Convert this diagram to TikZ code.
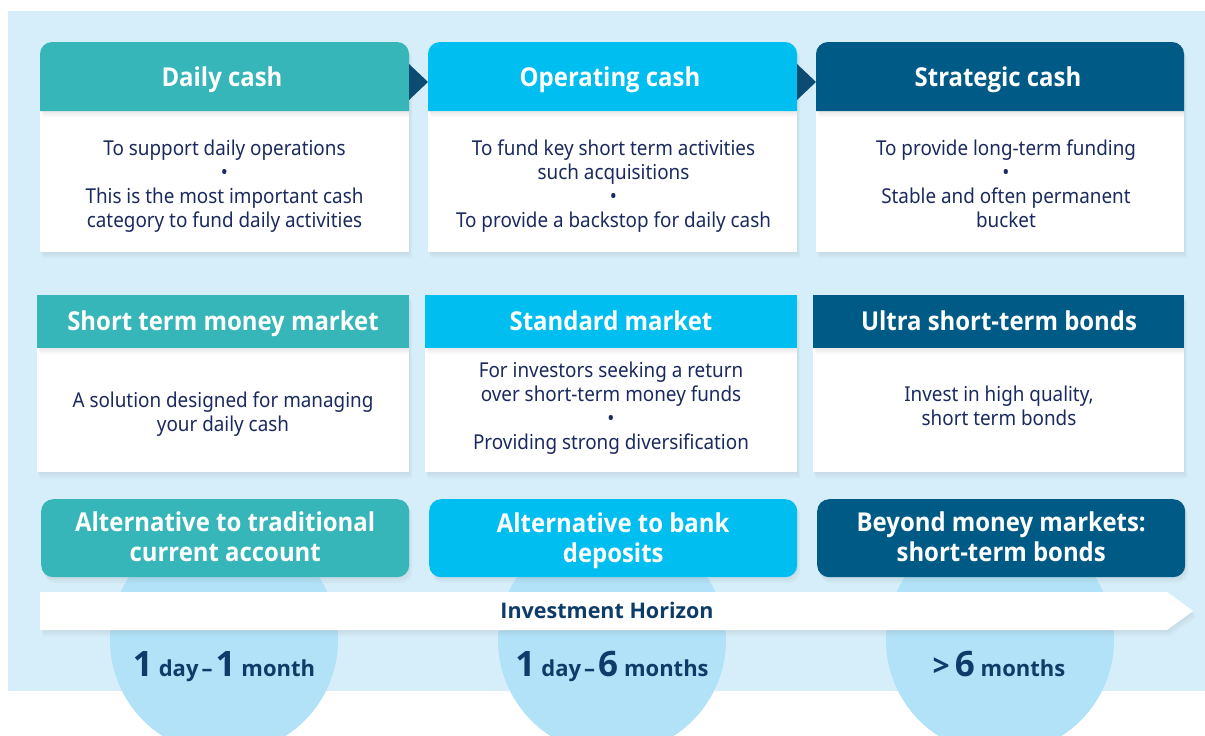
\documentclass[tikz,border=0pt]{standalone}
\usepackage{fontspec}
\setmainfont{Noto Sans}[FakeStretch=0.92]
\newfontfamily\hdfont{Open Sans}[FakeStretch=0.92]
\newfontfamily\hdwide{Open Sans}
\usetikzlibrary{shadows}
\definecolor{bgblue}{HTML}{D6EEFA}
\definecolor{circ}{HTML}{B2E2F8}
\definecolor{cteal}{HTML}{36B6B8}
\definecolor{ccyan}{HTML}{00BEF0}
\definecolor{cdark}{HTML}{005A86}
\definecolor{ctri}{HTML}{0C4C72}
\definecolor{ctext}{HTML}{1B2A5E}
\definecolor{clabel}{HTML}{0D3C69}
\newcommand{\hnum}[1]{{\hdwide\fontsize{35}{35}\selectfont\bfseries #1}}
\newcommand{\hword}[1]{{\hdwide\fontsize{22}{22}\selectfont\bfseries #1}}
\begin{document}
\begin{tikzpicture}[x=1pt,y=-1pt,
  softshadow/.style={
    drop shadow={opacity=0.05, shadow xshift=1pt, shadow yshift=-2pt},
    drop shadow={opacity=0.05, shadow xshift=2pt, shadow yshift=-4pt},
    drop shadow={opacity=0.05, shadow xshift=3pt, shadow yshift=-6pt}},
  hdrtext/.style={font=\hdfont\fontsize{26}{30}\selectfont\bfseries, text=white, align=center, inner sep=0pt},
  bodytext/.style={font=\fontsize{20.5}{24}\selectfont, text=ctext, align=center, inner sep=0pt},
  whitebox/.style={fill=white, inner sep=0pt, anchor=north west},
  bigcircle/.style={circle, fill=circ, minimum size=228pt, inner sep=0pt},
  horizon/.style={text=clabel, inner sep=0pt},
]
\clip (0,0) rectangle (1205,736);
\fill[white] (0,0) rectangle (1205,736);
\fill[bgblue] (8,11) rectangle (1205,691);

% circles
\node[bigcircle] (c1) at (224,640) {};
\node[bigcircle] (c2) at (612,640) {};
\node[bigcircle] (c3) at (1000,640) {};

% ---------- Row 1 ----------
\node[whitebox, softshadow, minimum width=369pt, minimum height=141pt] (b1) at (40,111) {};
\node[whitebox, softshadow, minimum width=369pt, minimum height=141pt] (b2) at (428,111) {};
\node[whitebox, softshadow, minimum width=368pt, minimum height=141pt] (b3) at (816,111) {};

\fill[cteal, softshadow] (40,111) [rounded corners=12pt] -- (40,42) -- (409,42) [sharp corners] -- (409,111) -- cycle;
\fill[ccyan, softshadow] (428,111) [rounded corners=12pt] -- (428,42) -- (797,42) [sharp corners] -- (797,111) -- cycle;
\fill[cdark, softshadow] (816,111) [rounded corners=12pt] -- (816,42) -- (1184,42) [sharp corners] -- (1184,111) -- cycle;

\fill[ctri] (409,64) -- (428,82) -- (409,100) -- cycle;
\fill[ctri] (797,64) -- (816,82) -- (797,100) -- cycle;

\node[hdrtext, anchor=base] (h1) at (222,86) {Daily cash};
\node[hdrtext, anchor=base] (h2) at (610,86) {Operating cash};
\node[hdrtext, anchor=base] (h3) at (998,86) {Strategic cash};

\node[bodytext] (t1) at (224.5,186) {To support daily operations\\•\\This is the most important cash\\category to fund daily activities};
\node[bodytext] (t2) at (613.5,186) {To fund key short term activities\\such acquisitions\\•\\To provide a backstop for daily cash};
\node[bodytext] (t3) at (1006,184) {To provide long-term funding\\•\\Stable and often permanent\\bucket};

% ---------- Row 2 ----------
\node[whitebox, softshadow, minimum width=372pt, minimum height=124pt] (d1) at (37,348) {};
\node[whitebox, softshadow, minimum width=372pt, minimum height=124pt] (d2) at (425,348) {};
\node[whitebox, softshadow, minimum width=371pt, minimum height=124pt] (d3) at (813,348) {};

\node[whitebox, softshadow, fill=cteal, minimum width=372pt, minimum height=53pt] (g1) at (37,295) {};
\node[whitebox, softshadow, fill=ccyan, minimum width=372pt, minimum height=53pt] (g2) at (425,295) {};
\node[whitebox, softshadow, fill=cdark, minimum width=371pt, minimum height=53pt] (g3) at (813,295) {};

\node[hdrtext, anchor=base] (k1) at (223,330) {Short term money market};
\node[hdrtext, anchor=base] (k2) at (611,330) {Standard market};
\node[hdrtext, anchor=base] (k3) at (999,330) {Ultra short-term bonds};

\node[bodytext] (u1) at (223,414) {A solution designed for managing\\your daily cash};
\node[bodytext] (u2) at (611,408) {For investors seeking a return\\over short-term money funds\\•\\Providing strong diversification};
\node[bodytext] (u3) at (999,406) {Invest in high quality,\\short term bonds};

% ---------- Row 3 ----------
\node[whitebox, softshadow, fill=cteal, rounded corners=12pt, minimum width=368pt, minimum height=78pt] (a1) at (41,499) {};
\node[whitebox, softshadow, fill=ccyan, rounded corners=12pt, minimum width=368pt, minimum height=78pt] (a2) at (429,499) {};
\node[whitebox, softshadow, fill=cdark, rounded corners=12pt, minimum width=368pt, minimum height=78pt] (a3) at (817,499) {};

\node[hdrtext] (s1) at ([yshift=1pt]a1.center) {Alternative to traditional\\current account};
\node[hdrtext] (s2) at ([yshift=-3pt]a2.center) {Alternative to bank\\deposits};
\node[hdrtext] (s3) at ([yshift=1pt]a3.center) {Beyond money markets:\\short-term bonds};

% ---------- Investment horizon arrow ----------
\fill[white, softshadow] (40,592) -- (1167,592) -- (1193,611) -- (1167,630) -- (40,630) -- cycle;
\node[horizon, anchor=base, font=\hdwide\fontsize{21.5}{24}\selectfont\bfseries] (ih) at (607,618) {Investment Horizon};

% ---------- Horizon labels ----------
\node[horizon, anchor=base] (l1) at (224,676) {\hnum{1}\hspace{6pt}\hword{day}\hspace{3pt}\hword{–}\hspace{3pt}\hnum{1}\hspace{6pt}\hword{month}};
\node[horizon, anchor=base] (l2) at (612,676) {\hnum{1}\hspace{6pt}\hword{day}\hspace{3pt}\hword{–}\hspace{3pt}\hnum{6}\hspace{6pt}\hword{months}};
\node[horizon, anchor=base] (l3) at (999,676) {{\hdwide\fontsize{30}{30}\selectfont\bfseries >}\hspace{5pt}\hnum{6}\hspace{6pt}\hword{months}};
\end{tikzpicture}
\end{document}
